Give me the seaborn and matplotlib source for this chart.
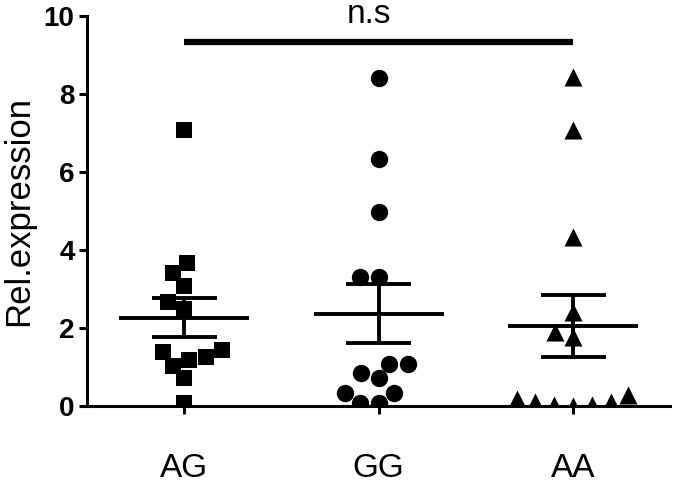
import numpy as np
import pandas as pd
import matplotlib
matplotlib.use("Agg")
import matplotlib.pyplot as plt
import seaborn as sns

categories = ["AG", "GG", "AA"]
ag_values = [7.08, 3.66, 3.40, 3.08, 2.67, 2.50, 1.44, 1.39, 1.25, 1.18, 1.03, 0.71, 0.07]
gg_values = [8.40, 6.33, 4.98, 3.30, 3.30, 1.07, 1.07, 0.84, 0.71, 0.33, 0.33, 0.09, 0.09]
aa_values = [8.45, 7.08, 4.33, 2.42, 1.91, 1.76, 0.28, 0.17, 0.11, 0.11, 0.03, 0.03, 0.00]
markers = ["s", "o", "^"]
marker_sizes = [12, 12.5, 13]
yticks = [0, 2, 4, 6, 8, 10]
sig_label = "n.s"
sig_level = 9.34

df = pd.DataFrame({
    "group": np.repeat(categories, [len(ag_values), len(gg_values), len(aa_values)]),
    "value": ag_values + gg_values + aa_values,
})

sns.set_style("ticks")
plt.rcParams["font.family"] = ["Liberation Sans", "DejaVu Sans"]
plt.rcParams["text.color"] = "black"
plt.rcParams["axes.labelcolor"] = "black"
plt.rcParams["xtick.color"] = "black"
plt.rcParams["ytick.color"] = "black"
plt.rcParams["axes.edgecolor"] = "black"

fig = plt.figure(figsize=(6.75, 4.88), dpi=100)
ax = fig.add_axes([0.129, 0.168, 0.864, 0.799])

for cat, mk, ms in zip(categories, markers, marker_sizes):
    sub = df[df["group"] == cat]
    sns.swarmplot(data=sub, x="group", y="value", order=categories, marker=mk,
                  color="black", size=ms, ax=ax, linewidth=0, zorder=2)

for i, cat in enumerate(categories):
    v = np.asarray(df.loc[df["group"] == cat, "value"])
    m = v.mean()
    sem = v.std(ddof=1) / np.sqrt(len(v))
    ax.hlines(m, i - 0.335, i + 0.335, color="black", lw=2.8, zorder=3)
    ax.hlines([m - sem, m + sem], i - 0.167, i + 0.167, color="black", lw=2.8, zorder=3)
    ax.vlines(i, m - sem, m + sem, color="black", lw=2.8, zorder=3)

ax.plot([0, 2], [sig_level, sig_level], color="black", lw=4.5, clip_on=False, solid_capstyle="butt")
ax.text(0.95, 9.82, sig_label, ha="center", va="baseline", fontsize=24, clip_on=False)

ax.set_xlim(-0.5, 2.5)
ax.set_ylim(0, 10)
ax.set_yticks(yticks)
ax.set_yticklabels([str(t) for t in yticks], fontweight="bold", fontsize=20)
ax.set_xticks(range(len(categories)))
ax.set_xticklabels(categories, fontsize=24)
ax.set_xlabel("")
ax.set_ylabel("Rel.expression", fontsize=25, labelpad=6)
ax.tick_params(axis="y", direction="out", length=6, width=2.2, pad=3)
ax.tick_params(axis="x", direction="out", length=6, width=2.2, pad=28)
sns.despine(ax=ax, top=True, right=True)
for s in ["left", "bottom"]:
    ax.spines[s].set_linewidth(2.2)

fig.savefig("out.png", dpi=100)
